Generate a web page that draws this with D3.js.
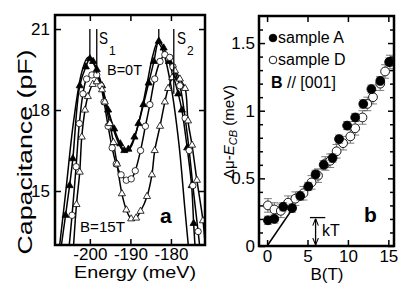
<!DOCTYPE html>
<html>
<head>
<meta charset="utf-8">
<script src="https://cdn.jsdelivr.net/npm/d3@7"></script>
<style>
  body { margin: 0; background: #fff; }
  svg { display: block; font-family: "Liberation Sans", Arial, sans-serif; }
</style>
</head>
<body>
<script>
// panel a: capacitance vs energy
const e0T = [-207.2, -206.0, -205.0, -204.2, -202.5, -201.0, -200.0, -199.2, -198.3, -197.0, -195.5, -194.0, -192.5, -191.5, -190.5, -189.0, -188.0, -186.8, -185.5, -184.2, -183.0, -181.8, -180.5, -179.3, -178.2, -177.3, -176.0, -174.9, -174.4, -174.0];
const c0T = [12.8, 14.1, 15.2, 16.2, 18.9, 19.6, 19.9, 19.8, 19.5, 18.9, 18.0, 17.3, 16.75, 16.5, 16.55, 17.0, 17.5, 18.2, 19.0, 19.8, 20.55, 20.3, 19.8, 19.2, 18.6, 18.0, 16.6, 15.2, 13.8, 12.8];

const eMid = [-205.2, -204.4, -203.4, -202.6, -201.7, -200.8, -199.5, -198.3, -197.3, -196.5, -195.5, -194.5, -193.5, -192.3, -191.0, -189.8, -188.8, -187.5, -186.3, -185.2, -184.0, -182.7, -181.5, -180.3, -179.5, -177.8, -176.5, -175.5, -174.6, -173.3, -172.8];
const cMid = [12.8, 14.1, 15.9, 17.5, 18.6, 19.15, 19.3, 19.3, 18.9, 18.3, 17.4, 16.6, 16.0, 15.6, 15.4, 15.45, 15.75, 16.5, 17.4, 18.2, 19.15, 19.8, 20.05, 19.95, 19.6, 18.9, 17.7, 16.5, 15.2, 13.5, 12.8];

const e15T = [-204.1, -203.3, -202.5, -202.0, -201.2, -200.5, -199.3, -198.3, -197.0, -196.3, -195.1, -194.2, -193.3, -192.1, -191.0, -189.8, -188.6, -187.5, -185.9, -184.7, -184.0, -182.7, -181.5, -180.7, -179.7, -179.0, -177.8, -176.5, -175.8, -174.8, -173.6, -172.1, -171.5];
const c15T = [12.8, 14.5, 15.7, 17.0, 18.0, 18.5, 18.95, 19.05, 18.75, 18.3, 17.5, 16.8, 16.0, 14.9, 14.3, 13.97, 14.0, 14.25, 14.8, 15.6, 16.5, 17.4, 18.3, 18.8, 19.2, 19.45, 19.15, 18.8, 17.6, 16.7, 15.4, 13.9, 12.9];

const eFit = [-207.6, -206.0, -204.0, -202.0, -200.5, -199.0, -197.0, -195.0, -193.0, -191.5, -190.0, -188.0, -186.0, -184.5, -183.3, -182.0, -180.0, -178.0, -176.6, -175.6];
const cFit = [12.8, 14.9, 17.6, 19.4, 19.95, 19.7, 18.8, 17.7, 16.8, 16.45, 16.6, 17.5, 18.9, 20.0, 20.5, 20.2, 18.9, 16.7, 14.4, 12.8];

const sEnergy = [-200.0, -198.3, -183.0, -179.3];
const sEnd = [19.9, 19.35, 20.5, 18.6];
const energyTicks = [-200, -190, -180];
const capTicks = [15, 18, 21];

// panel b: chemical potential shift vs field
const bA = [0.1, 0.9, 2.0, 3.1, 4.1, 5.1, 6.0, 7.0, 8.1, 8.9, 9.9, 10.9, 11.9, 12.9, 14.0, 15.1];
const muA = [0.19, 0.20, 0.29, 0.28, 0.37, 0.44, 0.53, 0.60, 0.65, 0.79, 0.89, 0.95, 1.05, 1.16, 1.22, 1.36];
const errA = [0.03, 0.03, 0.03, 0.03, 0.03, 0.03, 0.03, 0.03, 0.03, 0.03, 0.03, 0.03, 0.03, 0.03, 0.03, 0.03];
const bD = [0.1, 0.9, 1.7, 2.6, 3.5, 4.5, 5.5, 6.3, 7.2, 7.8, 8.6, 9.4, 10.3, 10.9, 11.8, 12.4, 13.1, 14.0, 14.6, 15.2];
const muD = [0.30, 0.27, 0.26, 0.32, 0.35, 0.39, 0.47, 0.52, 0.61, 0.63, 0.70, 0.76, 0.81, 0.87, 0.95, 1.05, 1.10, 1.20, 1.29, 1.36];
const errD = [0.05, 0.05, 0.05, 0.05, 0.05, 0.05, 0.05, 0.05, 0.05, 0.05, 0.05, 0.05, 0.05, 0.05, 0.05, 0.05, 0.05, 0.05, 0.05, 0.05];
const fitB = [0, 3.2];
const fitMu = [0, 0.28];
const bTicks = [0, 5, 10, 15];
const muTicks = [0, 0.5, 1, 1.5];
const muMinor = [0.1, 0.2, 0.3, 0.4, 0.6, 0.7, 0.8, 0.9, 1.1, 1.2, 1.3, 1.4, 1.6];
const legendLabels = ["sample A", "sample D"];
const kT = {b: 6, lo: 0, hi: 0.21, b0: 5.3, b1: 7.2};

document.addEventListener("DOMContentLoaded", function(){
    const w = 415;
    const h = 291;

    const svg = d3.select("body")
        .append("svg")
        .attr("width", w)
        .attr("height", h);

    svg.append("defs").append("marker")
        .attr("id", "arr")
        .attr("viewBox", "0 0 10 10")
        .attr("refX", 10).attr("refY", 5)
        .attr("markerWidth", 7).attr("markerHeight", 7)
        .attr("markerUnits", "userSpaceOnUse")
        .attr("orient", "auto-start-reverse")
        .append("path")
        .attr("d", "M0,1 L10,5 L0,9")
        .attr("fill", "none")
        .attr("stroke", "#000")
        .attr("stroke-width", 1.5);

    // ---------------- panel a ----------------
    const ax0 = 55, ax1 = 205, ay0 = 15, ay1 = 245;
    const xA = d3.scaleLinear().domain([-208.6, -171.6]).range([ax0, ax1]);
    const yA = d3.scaleLinear().domain([13, 21.52]).range([ay1, ay0]);

    svg.select("defs").append("clipPath").attr("id", "clipA")
        .append("rect").attr("x", ax0).attr("y", ay0).attr("width", ax1 - ax0).attr("height", ay1 - ay0);

    const gA = svg.append("g").attr("clip-path", "url(#clipA)");
    const lineA = d3.line().x(d => xA(d[0])).y(d => yA(d[1])).curve(d3.curveCatmullRom.alpha(0.5));

    const series = [
        {e: eFit, c: cFit, mark: null},
        {e: e0T, c: c0T, mark: "tri", fill: "#000"},
        {e: eMid, c: cMid, mark: "circ", fill: "#fff"},
        {e: e15T, c: c15T, mark: "tri", fill: "#fff"}
    ];

    series.forEach(s => {
        const pts = s.e.map((e, i) => [e, s.c[i]]);
        gA.append("path")
            .attr("d", lineA(pts))
            .attr("fill", "none")
            .attr("stroke", "#000")
            .attr("stroke-width", 1.5);
    });

    series.forEach(s => {
        if (!s.mark) return;
        const pts = s.e.map((e, i) => [e, s.c[i]]);
        if (s.mark === "tri") {
            gA.selectAll(null).data(pts).enter().append("path")
                .attr("d", d3.symbol(d3.symbolTriangle, 22))
                .attr("transform", d => "translate(" + xA(d[0]) + "," + yA(d[1]) + ")")
                .attr("fill", s.fill)
                .attr("stroke", "#000")
                .attr("stroke-width", 0.8);
        } else {
            gA.selectAll(null).data(pts).enter().append("circle")
                .attr("cx", d => xA(d[0]))
                .attr("cy", d => yA(d[1]))
                .attr("r", 3.2)
                .attr("fill", s.fill)
                .attr("stroke", "#000")
                .attr("stroke-width", 0.8);
        }
    });

    // s1 / s2 markers
    gA.selectAll(null).data(sEnergy).enter().append("line")
        .attr("x1", d => xA(d)).attr("x2", d => xA(d))
        .attr("y1", yA(21.0))
        .attr("y2", (d, i) => yA(sEnd[i]))
        .attr("stroke", "#000")
        .attr("stroke-width", 1.3);

    // axes a
    svg.append("g")
        .attr("transform", "translate(" + ax0 + ",0)")
        .call(d3.axisLeft(yA).tickValues(capTicks).tickSize(-6).tickPadding(5).tickFormat(d => String(d)));
    svg.append("g")
        .attr("transform", "translate(" + ax1 + ",0)")
        .call(d3.axisRight(yA).tickValues(capTicks).tickSize(-6).tickFormat(""));
    svg.append("g")
        .attr("transform", "translate(0," + ay1 + ")")
        .call(d3.axisBottom(xA).tickValues(energyTicks).tickSize(-6).tickPadding(3).tickFormat(d => String(d)));
    svg.append("g")
        .attr("transform", "translate(0," + ay0 + ")")
        .call(d3.axisTop(xA).tickValues(energyTicks).tickSize(-6).tickFormat(""));

    svg.append("rect")
        .attr("x", ax0).attr("y", ay0)
        .attr("width", ax1 - ax0).attr("height", ay1 - ay0)
        .attr("fill", "none").attr("stroke", "#000").attr("stroke-width", 2.5);

    svg.append("text")
        .attr("x", (ax0 + ax1) / 2 + 5).attr("y", 278)
        .attr("text-anchor", "middle")
        .attr("font-size", 17)
        .attr("textLength", 122).attr("lengthAdjust", "spacingAndGlyphs")
        .text("Energy (meV)");

    svg.append("text")
        .attr("transform", "translate(32,152) rotate(-90)")
        .attr("text-anchor", "middle")
        .attr("font-size", 20)
        .attr("textLength", 205).attr("lengthAdjust", "spacingAndGlyphs")
        .text("Capacitance (pF)");

    const sLabel = [{t: "S", sub: "1", x: 99}, {t: "S", sub: "2", x: 177}];
    sLabel.forEach(s => {
        svg.append("text").attr("x", s.x).attr("y", 44).attr("font-size", 17)
            .attr("textLength", 9).attr("lengthAdjust", "spacingAndGlyphs").text(s.t);
        svg.append("text").attr("x", s.x + 10).attr("y", 55).attr("font-size", 12).text(s.sub);
    });

    svg.append("text").attr("x", 107).attr("y", 75).attr("font-size", 14)
        .attr("textLength", 35).attr("lengthAdjust", "spacingAndGlyphs").text("B=0T");
    svg.append("text").attr("x", 80).attr("y", 232).attr("font-size", 14)
        .attr("textLength", 45).attr("lengthAdjust", "spacingAndGlyphs").text("B=15T");
    svg.append("text").attr("x", 160).attr("y", 223).attr("font-size", 21)
        .attr("font-weight", "bold").text("a");

    // ---------------- panel b ----------------
    const bx0 = 259, bx1 = 394, by0 = 16, by1 = 246;
    const xB = d3.scaleLinear().domain([-1, 15.7]).range([bx0, bx1]);
    const yB = d3.scaleLinear().domain([0, 1.7]).range([by1, by0]);

    svg.select("defs").append("clipPath").attr("id", "clipB")
        .append("rect").attr("x", bx0).attr("y", by0).attr("width", bx1 - bx0).attr("height", by1 - by0);
    const gB = svg.append("g").attr("clip-path", "url(#clipB)");

    const drawSample = function(bs, mus, errs, fill) {
        const pts = bs.map((b, i) => ({b: b, mu: mus[i], err: errs[i]}));
        const eb = gB.append("g").attr("stroke", "#444").attr("stroke-width", 0.7);
        eb.selectAll(null).data(pts).enter().append("line")
            .attr("x1", d => xB(d.b)).attr("x2", d => xB(d.b))
            .attr("y1", d => yB(d.mu - d.err)).attr("y2", d => yB(d.mu + d.err));
        eb.selectAll(null).data(pts).enter().append("line")
            .attr("x1", d => xB(d.b) - 4).attr("x2", d => xB(d.b) + 4)
            .attr("y1", d => yB(d.mu + d.err)).attr("y2", d => yB(d.mu + d.err));
        eb.selectAll(null).data(pts).enter().append("line")
            .attr("x1", d => xB(d.b) - 4).attr("x2", d => xB(d.b) + 4)
            .attr("y1", d => yB(d.mu - d.err)).attr("y2", d => yB(d.mu - d.err));
        gB.selectAll(null).data(pts).enter().append("circle")
            .attr("cx", d => xB(d.b))
            .attr("cy", d => yB(d.mu))
            .attr("r", 4.4)
            .attr("fill", fill)
            .attr("stroke", "#000")
            .attr("stroke-width", 0.9);
    };
    drawSample(bD, muD, errD, "#fff");
    drawSample(bA, muA, errA, "#000");

    gB.append("line")
        .attr("x1", xB(fitB[0])).attr("y1", yB(fitMu[0]))
        .attr("x2", xB(fitB[1])).attr("y2", yB(fitMu[1]))
        .attr("stroke", "#000").attr("stroke-width", 1.6);

    // kT marker
    svg.append("line")
        .attr("x1", xB(kT.b0)).attr("x2", xB(kT.b1))
        .attr("y1", yB(kT.hi)).attr("y2", yB(kT.hi))
        .attr("stroke", "#000").attr("stroke-width", 1.3);
    svg.append("line")
        .attr("x1", xB(kT.b)).attr("x2", xB(kT.b))
        .attr("y1", yB(kT.hi) + 1).attr("y2", yB(kT.lo) - 1)
        .attr("stroke", "#000").attr("stroke-width", 1.3)
        .attr("marker-start", "url(#arr)")
        .attr("marker-end", "url(#arr)");
    svg.append("text").attr("x", 322).attr("y", 236).attr("font-size", 16).text("kT");
    svg.append("text").attr("x", 364).attr("y", 222).attr("font-size", 21)
        .attr("font-weight", "bold").text("b");

    // axes b
    svg.append("g")
        .attr("transform", "translate(" + bx0 + ",0)")
        .call(d3.axisLeft(yB).tickValues(muTicks).tickSize(-6).tickPadding(4).tickFormat(d => String(d)));
    svg.append("g")
        .attr("transform", "translate(" + bx0 + ",0)")
        .call(d3.axisLeft(yB).tickValues(muMinor).tickSize(-4).tickFormat(""));
    svg.append("g")
        .attr("transform", "translate(" + bx1 + ",0)")
        .call(d3.axisRight(yB).tickValues(muTicks).tickSize(-6).tickFormat(""));
    svg.append("g")
        .attr("transform", "translate(" + bx1 + ",0)")
        .call(d3.axisRight(yB).tickValues(muMinor).tickSize(-4).tickFormat(""));
    svg.append("g")
        .attr("transform", "translate(0," + by1 + ")")
        .call(d3.axisBottom(xB).tickValues(bTicks).tickSize(-6).tickPadding(4).tickFormat(d => String(d)));
    svg.append("g")
        .attr("transform", "translate(0," + by0 + ")")
        .call(d3.axisTop(xB).tickValues(bTicks).tickSize(-6).tickFormat(""));

    svg.append("rect")
        .attr("x", bx0).attr("y", by0)
        .attr("width", bx1 - bx0).attr("height", by1 - by0)
        .attr("fill", "none").attr("stroke", "#000").attr("stroke-width", 2.5);

    svg.append("text")
        .attr("x", 327).attr("y", 280)
        .attr("text-anchor", "middle")
        .attr("font-size", 17)
        .text("B(T)");

    const yl = svg.append("text")
        .attr("transform", "translate(234,132) rotate(-90)")
        .attr("text-anchor", "middle")
        .attr("font-size", 15);
    yl.append("tspan").text("Δμ-");
    yl.append("tspan").attr("font-style", "italic").text("E");
    yl.append("tspan").attr("font-style", "italic").attr("font-size", 11).attr("dy", 3).text("CB");
    yl.append("tspan").attr("dy", -3).text(" (meV)");

    // legend
    const leg = svg.append("g");
    legendLabels.forEach((t, i) => {
        leg.append("circle")
            .attr("cx", 273).attr("cy", 38 + i * 22)
            .attr("r", 3.8)
            .attr("fill", i === 0 ? "#000" : "#fff")
            .attr("stroke", "#000").attr("stroke-width", 0.9);
        leg.append("text")
            .attr("x", 278).attr("y", 43 + i * 22)
            .attr("font-size", 16)
            .text(t);
    });
    const bl = leg.append("text").attr("x", 271).attr("y", 88).attr("font-size", 16);
    bl.append("tspan").attr("font-weight", "bold").text("B");
    bl.append("tspan").text(" // [001]");

    svg.selectAll(".tick text").attr("font-size", 17).attr("font-family", "Liberation Sans, Arial, sans-serif");
    svg.selectAll(".tick line").attr("stroke-width", 1.5);
    svg.selectAll(".domain").remove();
});
</script>
</body>
</html>
